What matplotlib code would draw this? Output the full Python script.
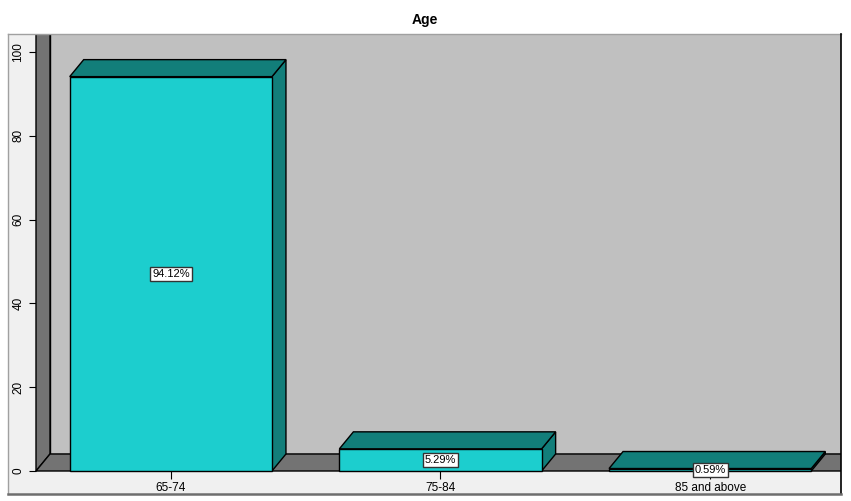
import matplotlib
matplotlib.use('Agg')
import matplotlib.pyplot as plt
from matplotlib.patches import Polygon, Rectangle
from matplotlib.lines import Line2D
from matplotlib.transforms import Bbox, TransformedBbox

categories = ['65-74', '75-84', '85 and above']
percents = [94.12, 5.29, 0.59]
y_ticks = [0, 20, 40, 60, 80, 100]

W, H = 851, 501
DX, DY = 14, 17          # depth of the 3d effect, in pixels
bar_w = 0.75
wall_top = 110           # walls run past the frame and get clipped

plt.rcParams['font.family'] = ['Liberation Sans', 'DejaVu Sans']

fig = plt.figure(figsize=(W / 100, H / 100), dpi=100)
fig.patch.set_facecolor('white')

def fx(px):
    return px / W

def fy(py):
    return (H - py) / H

# chart frame
fig.patches.append(Rectangle((fx(8), fy(494)), fx(841) - fx(8), fy(34) - fy(494),
                             transform=fig.transFigure, facecolor='#f0f0f0',
                             edgecolor='none', zorder=-5))

ax = fig.add_axes([fx(36), fy(471), fx(845) - fx(36), fy(52) - fy(471)])
ax.set_xlim(-0.5, 2.5)
ax.set_ylim(0, 100)
ax.patch.set_visible(False)
for s in ax.spines.values():
    s.set_visible(False)

clip = TransformedBbox(Bbox.from_extents(fx(8), fy(494), fx(841), fy(34)), fig.transFigure)


def off(x, y):
    px, py = ax.transData.transform((x, y))
    return tuple(ax.transData.inverted().transform((px + DX, py + DY)))


def poly(pts, color, z):
    p = Polygon(pts, closed=True, facecolor=color, edgecolor='black', lw=1, zorder=z)
    ax.add_patch(p)
    p.set_clip_box(clip)
    return p


x0, x1 = ax.get_xlim()
# back wall, left wall, floor
poly([off(x0, 0), off(x1, 0), off(x1, wall_top), off(x0, wall_top)], '#c0c0c0', 1)
poly([(x0, 0), off(x0, 0), off(x0, wall_top), (x0, wall_top)], '#737373', 2)
poly([(x0, 0), (x1, 0), off(x1, 0), off(x0, 0)], '#737373', 2)

for i, v in enumerate(percents):
    a, b = i - bar_w / 2, i + bar_w / 2
    poly([(b, 0), off(b, 0), off(b, v), (b, v)], '#127e7a', 3)
    poly([(a, v), (b, v), off(b, v), off(a, v)], '#127e7a', 3)
    poly([(a, 0), (b, 0), (b, v), (a, v)], '#1ccece', 4)
    ax.text(i, v / 2, f'{v:.2f}%', ha='center', va='center', fontsize=8, zorder=6,
            bbox=dict(boxstyle='square,pad=0.18', fc='white', ec='#333333', lw=1))

ax.set_xticks(range(len(categories)), categories)
ax.set_yticks(y_ticks)
ax.tick_params(axis='x', length=6, width=0.8, pad=2, labelsize=8.5)
ax.tick_params(axis='y', length=5, width=0.8, pad=3.5, labelsize=8.5)
for lab in ax.get_yticklabels():
    lab.set_rotation(90)
    lab.set_va('center')

# frame edges
fig.add_artist(Line2D([fx(8), fx(841)], [fy(34), fy(34)], color='#a0a0a0', lw=1, zorder=10))
fig.add_artist(Line2D([fx(8), fx(8)], [fy(34), fy(494)], color='#a0a0a0', lw=1, zorder=10))
fig.add_artist(Line2D([fx(841), fx(841)], [fy(34), fy(494)], color='black', lw=1.2, zorder=10))
fig.add_artist(Line2D([fx(8), fx(841)], [fy(494), fy(494)], color='#6e6e6e', lw=1.8, zorder=10))

fig.text(fx(425), fy(20), 'Age', ha='center', va='center', fontsize=10, fontweight='bold')

fig.savefig('out.png', dpi=100)
